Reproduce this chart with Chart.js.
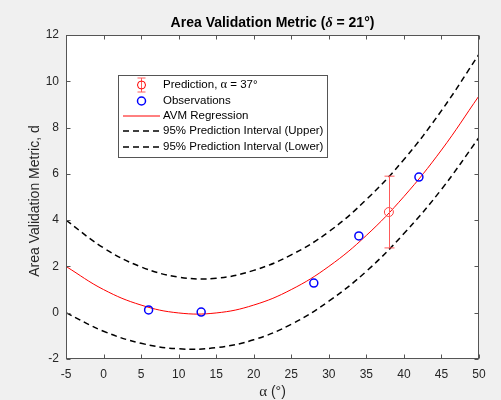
<!DOCTYPE html>
<html>
<head>
<meta charset="utf-8">
<script src="https://cdn.jsdelivr.net/npm/chart.js@4.4.1/dist/chart.umd.min.js"></script>
<style>
  html, body { margin: 0; padding: 0; background: #f0f0f0; }
  #wrap { width: 501px; height: 400px; }
</style>
</head>
<body>
<div id="wrap"><canvas id="myChart" width="501" height="400"></canvas></div>
<script>
// curve samples
const curveX = [-5, 0, 5, 10, 15, 20, 25, 30, 35, 40, 45, 50];
const avmY = [2.0, 1.0, 0.33, -0.01, -0.01, 0.33, 1.0, 2.0, 3.34, 5.02, 7.03, 9.37];
const upperY = [4.0, 2.8, 1.98, 1.54, 1.49, 1.83, 2.5, 3.5, 4.89, 6.62, 8.73, 11.17];
const lowerY = [0.0, -0.8, -1.32, -1.56, -1.51, -1.17, -0.5, 0.5, 1.79, 3.42, 5.33, 7.57];

const obsX = [6, 13, 28, 34, 42];
const obsY = [0.12, 0.03, 1.28, 3.32, 5.86];

const predX = [38];
const predY = [4.35];
const predLow = [2.8];
const predHigh = [5.9];

const xTicks = [-5, 0, 5, 10, 15, 20, 25, 30, 35, 40, 45, 50];
const yTicks = [-2, 0, 2, 4, 6, 8, 10, 12];

const axisColor = "#262626";
const boxColor = "#555555";
const sans = "'Liberation Sans', Arial, sans-serif";
const serif = "'Liberation Serif', 'Times New Roman', serif";

function pts(xs, ys) {
  return xs.map((x, i) => ({ x: x, y: ys[i] }));
}

// draws text where greek letters use a serif font
function mixedText(ctx, parts, x, y, align) {
  let total = 0;
  parts.forEach((p) => { ctx.font = p.font; total += ctx.measureText(p.t).width; });
  let cx = align === "center" ? x - total / 2 : x;
  ctx.textAlign = "left";
  parts.forEach((p) => {
    ctx.font = p.font;
    ctx.fillText(p.t, cx, y);
    cx += ctx.measureText(p.t).width;
  });
}

const matlabPlugin = {
  id: "matlab",
  beforeDraw(chart) {
    const { ctx, chartArea: a } = chart;
    ctx.save();
    ctx.fillStyle = "#f0f0f0";
    ctx.fillRect(0, 0, chart.width, chart.height);
    ctx.fillStyle = "#ffffff";
    ctx.fillRect(a.left, a.top, a.right - a.left, a.bottom - a.top);
    ctx.restore();
  },
  afterDatasetsDraw(chart) {
    const { ctx } = chart;
    const xs = chart.scales.x, ys = chart.scales.y;
    ctx.save();
    ctx.strokeStyle = "#ff5a5a";
    ctx.lineWidth = 1;
    predX.forEach((px, i) => {
      const x = Math.round(xs.getPixelForValue(px)) + 0.5;
      const y1 = ys.getPixelForValue(predLow[i]);
      const y2 = ys.getPixelForValue(predHigh[i]);
      ctx.beginPath();
      ctx.moveTo(x, y1); ctx.lineTo(x, y2);
      ctx.moveTo(x - 5, y1); ctx.lineTo(x + 5, y1);
      ctx.moveTo(x - 5, y2); ctx.lineTo(x + 5, y2);
      ctx.stroke();
    });
    ctx.restore();
  },
  afterDraw(chart) {
    const { ctx, chartArea: a } = chart;
    const xs = chart.scales.x, ys = chart.scales.y;
    ctx.save();
    // axes box and inward ticks
    ctx.strokeStyle = boxColor;
    ctx.lineWidth = 1;
    const L = Math.round(a.left) + 0.5, R = Math.round(a.right) - 0.5;
    const T = Math.round(a.top) + 0.5, B = Math.round(a.bottom) - 0.5;
    ctx.strokeRect(L, T, R - L, B - T);
    ctx.beginPath();
    xTicks.forEach((v) => {
      const x = Math.round(xs.getPixelForValue(v)) + 0.5;
      ctx.moveTo(x, B); ctx.lineTo(x, B - 4);
      ctx.moveTo(x, T); ctx.lineTo(x, T + 4);
    });
    yTicks.forEach((v) => {
      const y = Math.round(ys.getPixelForValue(v)) + 0.5;
      ctx.moveTo(L, y); ctx.lineTo(L + 4, y);
      ctx.moveTo(R, y); ctx.lineTo(R - 4, y);
    });
    ctx.stroke();

    // title
    const cx = (a.left + a.right) / 2;
    ctx.fillStyle = "#000";
    ctx.textBaseline = "middle";
    mixedText(ctx, [
      { t: "Area Validation Metric (", font: "bold 14px " + sans },
      { t: "δ", font: "italic bold 14px " + serif },
      { t: " = 21°)", font: "bold 14px " + sans },
    ], cx, 23, "center");

    // axis labels
    ctx.fillStyle = axisColor;
    mixedText(ctx, [
      { t: "α", font: "15px " + serif },
      { t: " (°)", font: "14px " + sans },
    ], cx, 392, "center");
    ctx.translate(35, (a.top + a.bottom) / 2 + 4);
    ctx.rotate(-Math.PI / 2);
    ctx.font = "14px " + sans;
    ctx.textAlign = "center";
    ctx.fillText("Area Validation Metric, d", 0, 0);
    ctx.setTransform(1, 0, 0, 1, 0, 0);

    // legend
    const bx = 118.5, by = 75.5, bw = 209, bh = 82;
    ctx.fillStyle = "#fff";
    ctx.fillRect(bx, by, bw, bh);
    ctx.strokeStyle = boxColor;
    ctx.lineWidth = 1;
    ctx.strokeRect(bx, by, bw, bh);
    const rowY = [85, 101, 116, 131, 147];
    const ds = chart.data.datasets;
    const order = [4, 3, 0, 1, 2];
    order.forEach((di, r) => {
      const d = ds[di];
      const y = rowY[r];
      ctx.save();
      if (d.label.startsWith("Prediction")) {
        ctx.strokeStyle = "#ff5a5a";
        ctx.beginPath();
        ctx.moveTo(141.5, y - 7); ctx.lineTo(141.5, y + 7);
        ctx.moveTo(137.5, y - 7); ctx.lineTo(145.5, y - 7);
        ctx.moveTo(137.5, y + 7); ctx.lineTo(145.5, y + 7);
        ctx.stroke();
        ctx.strokeStyle = "#ff0000";
        ctx.beginPath(); ctx.arc(141.5, y, 4, 0, Math.PI * 2); ctx.stroke();
      } else if (d.label === "Observations") {
        ctx.strokeStyle = "#0000ff";
        ctx.lineWidth = 1.5;
        ctx.beginPath(); ctx.arc(141.5, y, 4, 0, Math.PI * 2); ctx.stroke();
      } else {
        ctx.strokeStyle = d.borderColor;
        ctx.lineWidth = d.borderWidth;
        ctx.setLineDash(d.borderDash || []);
        ctx.beginPath(); ctx.moveTo(123, y); ctx.lineTo(160, y); ctx.stroke();
      }
      ctx.restore();
      ctx.fillStyle = "#000";
      ctx.textBaseline = "middle";
      const parts = d.label.split("α");
      if (parts.length > 1) {
        mixedText(ctx, [
          { t: parts[0], font: "11.5px " + sans },
          { t: "α", font: "12.5px " + serif },
          { t: parts[1], font: "11.5px " + sans },
        ], 163, y, "left");
      } else {
        ctx.font = "11.5px " + sans;
        ctx.textAlign = "left";
        ctx.fillText(d.label, 163, y);
      }
    });
    ctx.restore();
  },
};

const ctx = document.getElementById("myChart");

new Chart(ctx, {
  type: "line",
  data: {
    datasets: [
      {
        label: "AVM Regression",
        data: pts(curveX, avmY),
        borderColor: "#ff0000",
        borderWidth: 1,
        pointRadius: 0,
        tension: 0.4,
        order: 3,
      },
      {
        label: "95% Prediction Interval (Upper)",
        data: pts(curveX, upperY),
        borderColor: "#000000",
        borderWidth: 1.5,
        borderDash: [6, 4],
        pointRadius: 0,
        tension: 0.4,
        order: 4,
      },
      {
        label: "95% Prediction Interval (Lower)",
        data: pts(curveX, lowerY),
        borderColor: "#000000",
        borderWidth: 1.5,
        borderDash: [6, 4],
        pointRadius: 0,
        tension: 0.4,
        order: 5,
      },
      {
        type: "scatter",
        label: "Observations",
        data: pts(obsX, obsY),
        borderColor: "#0000ff",
        backgroundColor: "rgba(0,0,0,0)",
        borderWidth: 1.5,
        pointRadius: 4,
        order: 1,
      },
      {
        type: "scatter",
        label: "Prediction, α = 37°",
        data: pts(predX, predY),
        borderColor: "#ff4040",
        backgroundColor: "rgba(0,0,0,0)",
        borderWidth: 1,
        pointRadius: 4.5,
        order: 2,
      },
    ],
  },
  options: {
    responsive: false,
    animation: false,
    devicePixelRatio: 1,
    layout: {
      padding: { top: 35, right: 22, left: 0, bottom: 0 },
    },
    scales: {
      x: {
        type: "linear",
        min: -5,
        max: 50,
        afterFit: (s) => { s.height = 41; },
        afterBuildTicks: (s) => { s.ticks = xTicks.map((v) => ({ value: v })); },
        grid: { display: false, drawTicks: false },
        border: { display: false },
        ticks: { color: axisColor, font: { family: sans, size: 12 }, padding: 8, maxRotation: 0 },
      },
      y: {
        min: -2,
        max: 12,
        afterFit: (s) => { s.width = 66; },
        afterBuildTicks: (s) => { s.ticks = yTicks.map((v) => ({ value: v })); },
        grid: { display: false, drawTicks: false },
        border: { display: false },
        ticks: { color: axisColor, font: { family: sans, size: 12 }, padding: 7 },
      },
    },
    plugins: {
      legend: { display: false },
      title: { display: false },
      tooltip: { enabled: false },
    },
  },
  plugins: [matlabPlugin],
});
</script>
</body>
</html>
